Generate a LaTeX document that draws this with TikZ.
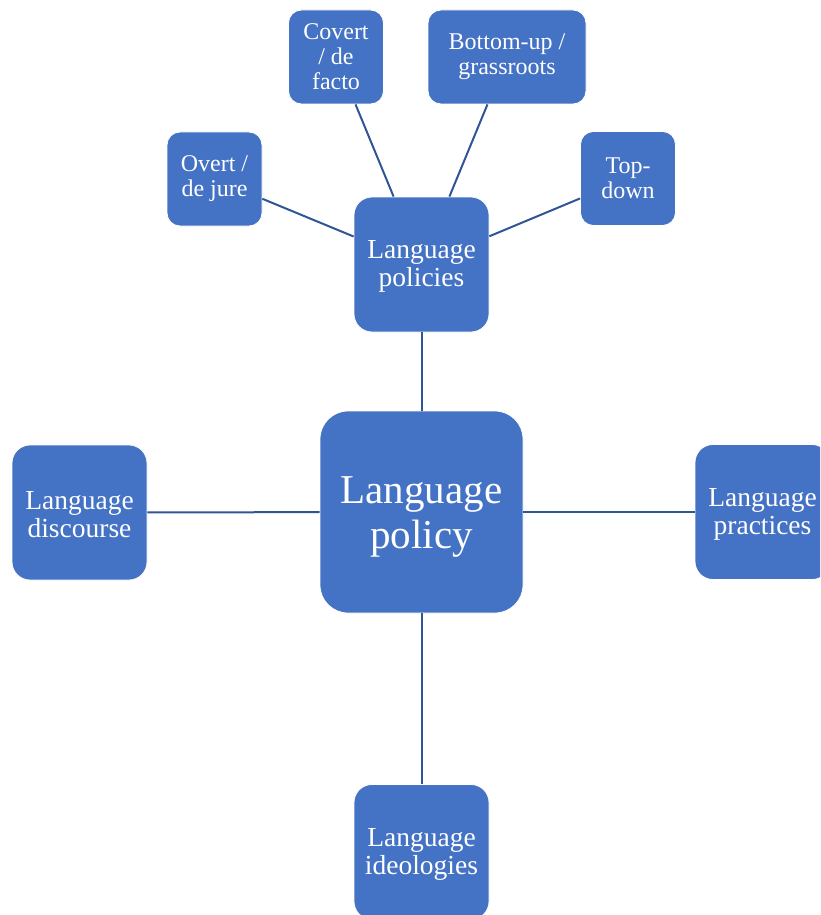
\documentclass[tikz,border=0pt]{standalone}
\usepackage{fontspec}
\setmainfont{Liberation Serif}
\definecolor{boxblue}{HTML}{4472C4}
\definecolor{linkblue}{HTML}{2F5597}
\begin{document}
\begin{tikzpicture}[x=1pt,y=-1pt,
  basebox/.style={rectangle, fill=boxblue, draw=white, line width=0.8pt, text=white, align=center, inner sep=0pt},
  bigbox/.style={basebox, minimum width=203pt, minimum height=202pt, rounded corners=28pt, font=\fontsize{41}{45}\selectfont},
  midbox/.style={basebox, minimum width=135pt, minimum height=135pt, rounded corners=18pt, font=\fontsize{27.5}{28}\selectfont},
  smallbox/.style={basebox, minimum width=95pt, minimum height=94pt, rounded corners=13pt, font=\fontsize{24}{25}\selectfont},
  link/.style={draw=linkblue, line width=2pt}]
\useasboundingbox (0,0) rectangle (820,915);
\clip (0,0) rectangle (820,915);
\node[bigbox] (center) at (421.5,512) {\rule{0pt}{37pt}Language\\policy};
\node[midbox] (policies) at (421.5,264.5) {\rule{0pt}{22pt}Language\\policies};
\node[midbox] (discourse) at (79.5,512.5) {\rule{0pt}{22pt}Language\\discourse};
\node[midbox] (practices) at (762.5,512) {\rule{0pt}{22pt}Language\\practices};
\node[midbox] (ideologies) at (421.5,852) {\rule{0pt}{22pt}Language\\ideologies};
\node[smallbox] (overt) at (214.5,179) {Overt /\\de jure};
\node[smallbox] (covert) at (336,57) {Covert\\/ de\\facto};
\node[smallbox, minimum width=158pt] (bottomup) at (507,57) {Bottom-up /\\grassroots};
\node[smallbox] (topdown) at (628,178.5) {Top-\\down};
\draw[link] (overt) -- (policies);
\draw[link] (covert) -- (policies);
\draw[link] (bottomup) -- (policies);
\draw[link] (topdown) -- (policies);
\draw[link] (policies) -- (center);
\draw[link] (center) -- (ideologies);
\draw[link] (center) -- (discourse);
\draw[link] (center) -- (practices);
\end{tikzpicture}
\end{document}
